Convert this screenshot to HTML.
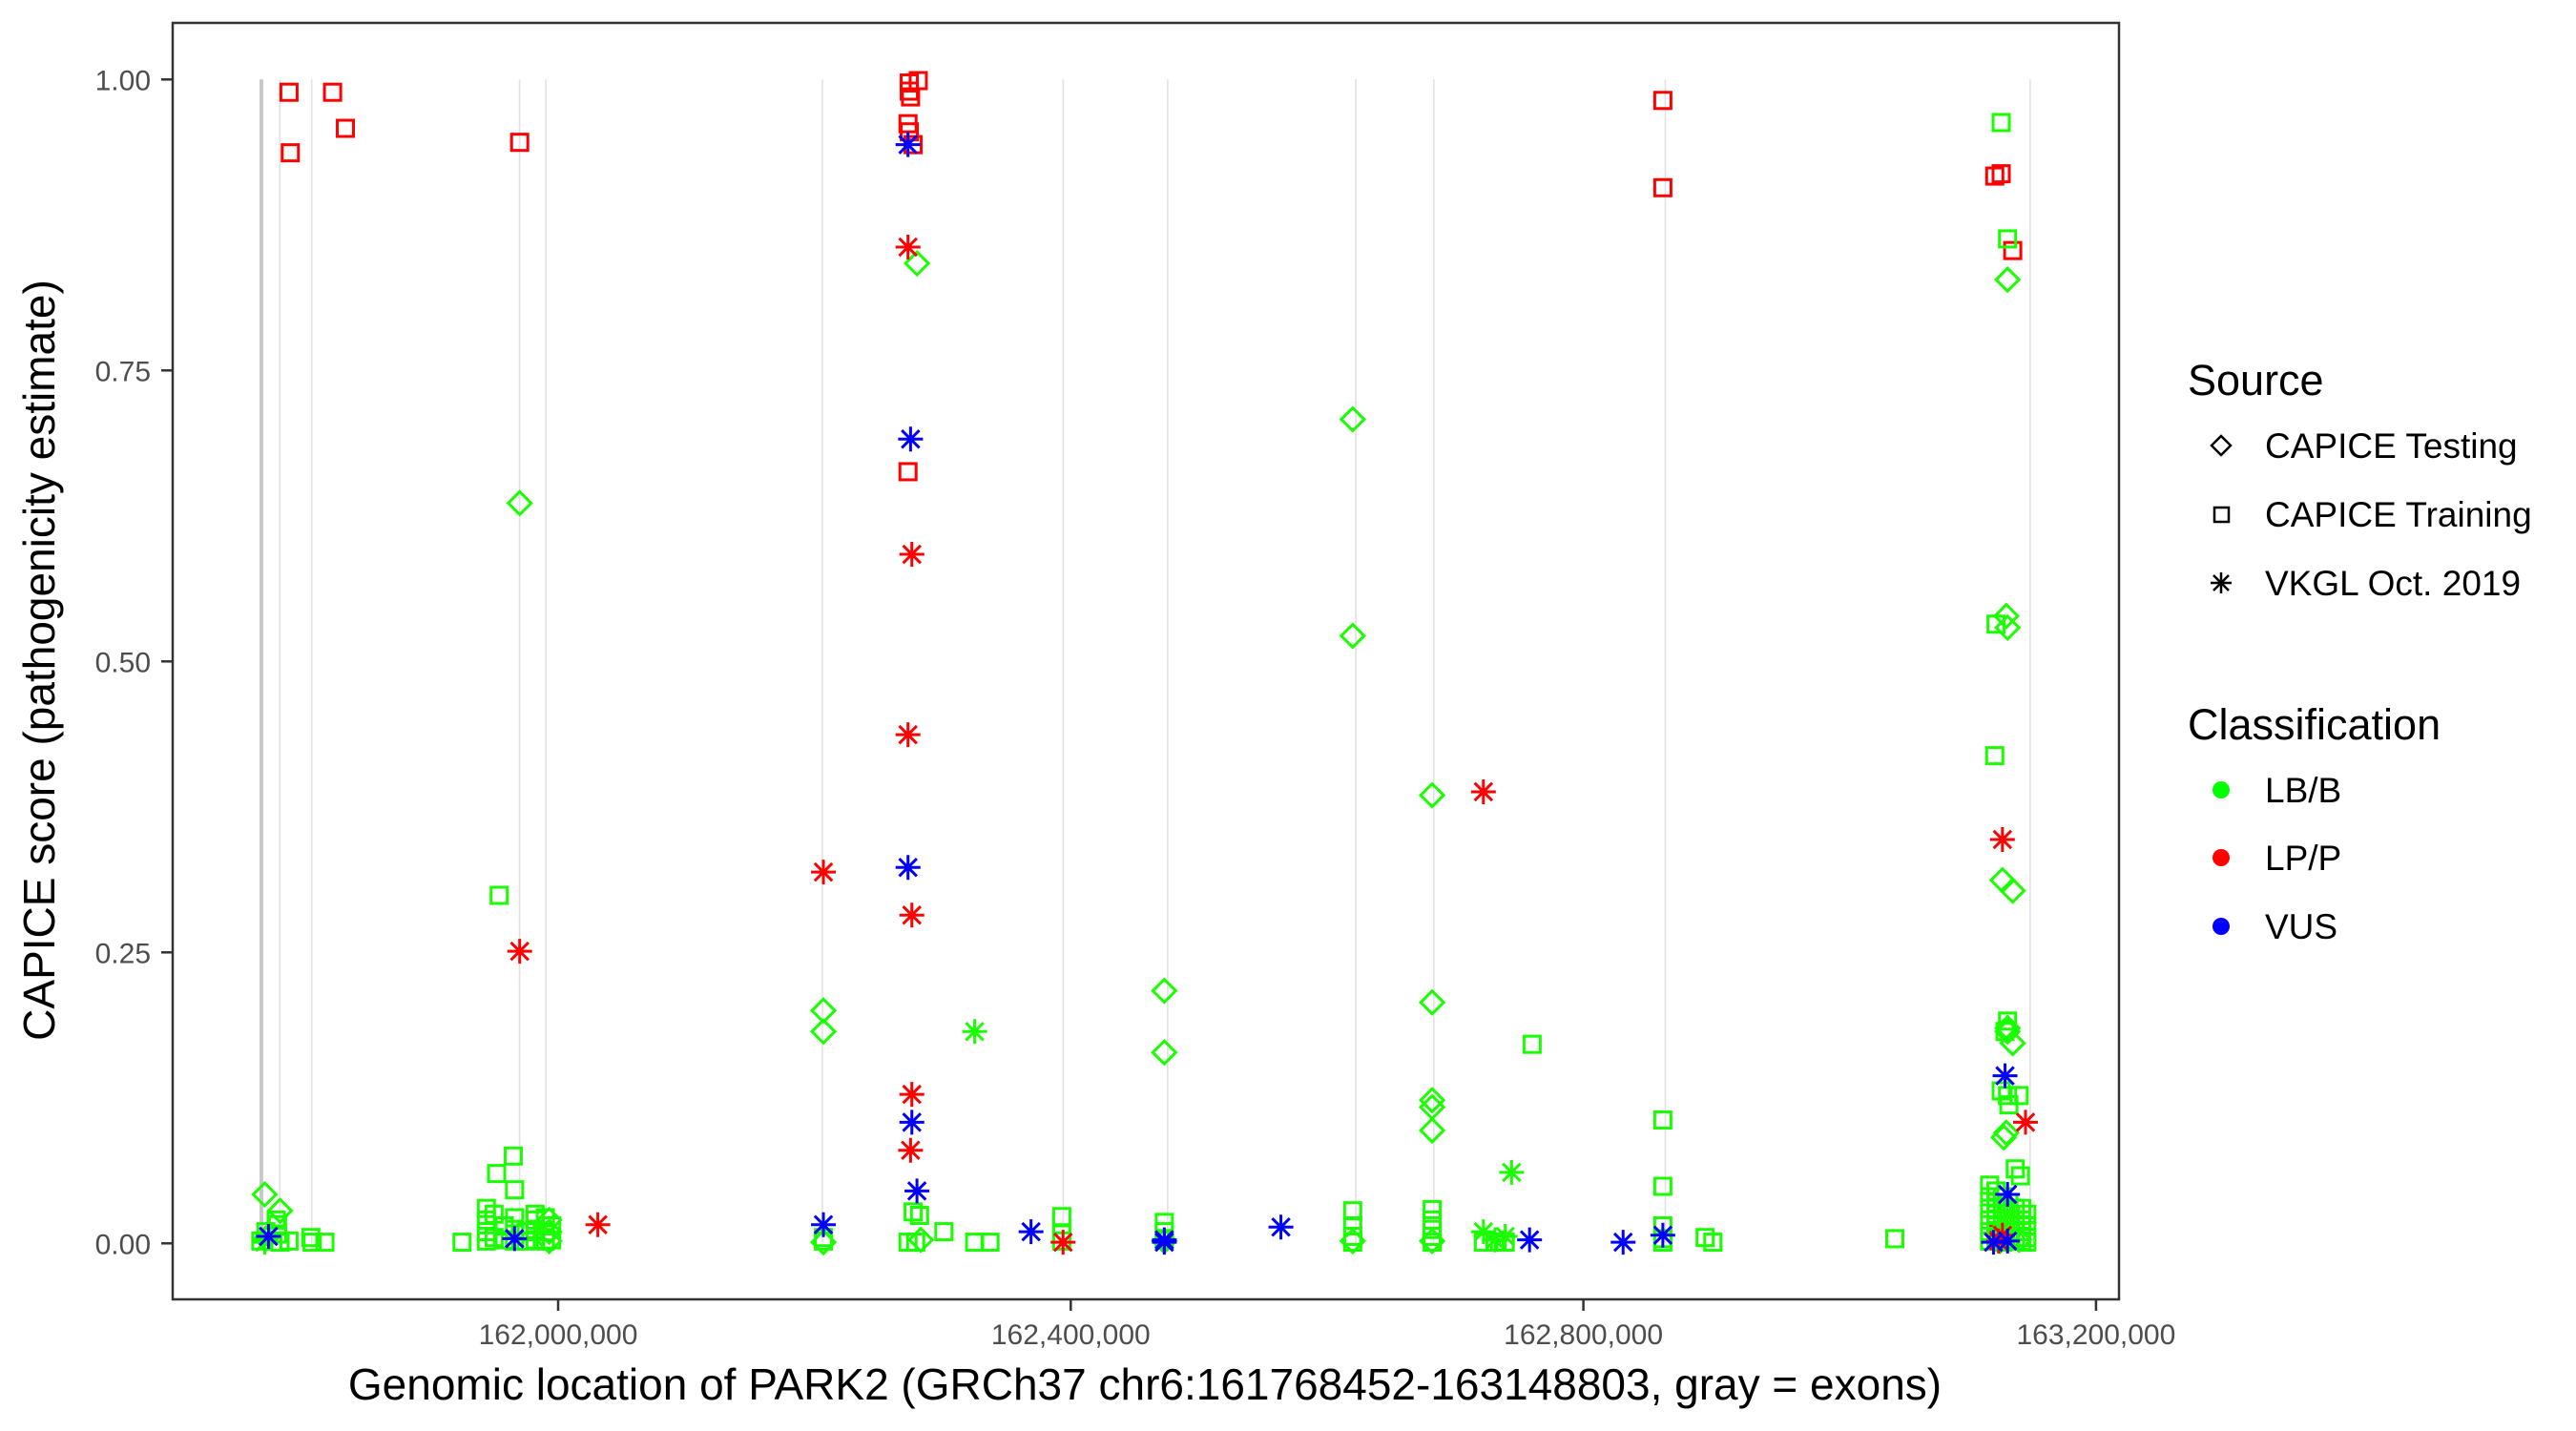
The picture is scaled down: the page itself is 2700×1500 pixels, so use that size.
<!DOCTYPE html>
<html><head><meta charset="utf-8"><title>PARK2 CAPICE scores</title>
<style>html,body{margin:0;padding:0;background:#fff}svg{display:block}</style></head>
<body>
<svg id="chart" xmlns="http://www.w3.org/2000/svg" width="2700" height="1500" viewBox="0 0 2700 1500" font-family="Liberation Sans, sans-serif">
<rect x="0" y="0" width="2700" height="1500" fill="#fff"/>
<g id="exons"></g>
<g id="points"></g>
<rect x="181" y="24" width="2040" height="1338" fill="none" stroke="#333" stroke-width="2.5"/>
<g id="yaxis"></g>
<g id="xaxis"></g>
<text transform="translate(57,692) rotate(-90)" text-anchor="middle" font-size="46" fill="#000">CAPICE score (pathogenicity estimate)</text>
<text x="1200" y="1467" text-anchor="middle" font-size="46" fill="#000">Genomic location of PARK2 (GRCh37 chr6:161768452-163148803, gray = exons)</text>
<g id="legend">
  <text x="2293" y="414" font-size="45" fill="#000">Source</text>
  <g>
    <path d="M2328 457 L2338 467 L2328 477 L2318 467 Z" fill="none" stroke="#000" stroke-width="2.5"/>
    <text x="2374" y="480" font-size="37">CAPICE Testing</text>
  </g>
  <g>
    <rect x="2321" y="532" width="15" height="15" fill="none" stroke="#000" stroke-width="2.5"/>
    <text x="2374" y="552" font-size="37">CAPICE Training</text>
  </g>
  <g>
    <path d="M2328 600 V622 M2317 611 H2339 M2320 603 L2336 619 M2336 603 L2320 619" stroke="#000" stroke-width="2.5"/>
    <text x="2374" y="624" font-size="37">VKGL Oct. 2019</text>
  </g>
  <text x="2293" y="775" font-size="45" fill="#000">Classification</text>
  <g>
    <circle cx="2328" cy="828" r="9" fill="#00ff00"/>
    <text x="2374" y="841" font-size="37">LB/B</text>
  </g>
  <g>
    <circle cx="2328" cy="899" r="9" fill="#ff0000"/>
    <text x="2374" y="912" font-size="37">LP/P</text>
  </g>
  <g>
    <circle cx="2328" cy="971" r="9" fill="#0000ff"/>
    <text x="2374" y="984" font-size="37">VUS</text>
  </g>
</g>
</svg>
<script>
const xTicks = [162000000, 162400000, 162800000, 163200000];
const xTickLabels = ["162,000,000", "162,400,000", "162,800,000", "163,200,000"];
const yTicks = [0, 0.25, 0.5, 0.75, 1.0];
const yTickLabels = ["0.00", "0.25", "0.50", "0.75", "1.00"];
const exonPos = [161768452, 161782800, 161807700, 161969900, 161990500, 162206200, 162394100, 162475600, 162622400, 162683300, 162863900, 163148600];

// kb positions and scores
const testLB_x = [161771,161783,161772,162280,161970,162207,162207,162207,162473,162473,162473,162620,162620,162620,162682,162682,162682,162682,162682,162682,163130,163131,163131,163127,163135,163131,163131,163135,163130,163128,161993,161993,161993,163140,163125,162283];
const testLB_y = [0.042,0.028,0.004,0.842,0.636,0.200,0.182,0.001,0.217,0.164,0.002,0.708,0.522,0.002,0.385,0.207,0.123,0.117,0.097,0.002,0.539,0.529,0.828,0.312,0.303,0.185,0.182,0.172,0.095,0.091,0.020,0.010,0.002,0.003,0.002,0.003];
const trainLB_x = [161768,161772,161780,161781,161781,161783,161790,161807,161808,161818,
 161925,161965,161952,161966,161954,161944,161944,161944,161944,161950,161950,161958,161958,161966,161966,161966,161975,161975,161982,161982,161982,161982,161990,161990,161990,161995,161995,
 162207,162207,162277,162282,162273,162279,162301,162325,162337,162393,162393,162393,
 162473,162473,162473,162620,162620,162620,162620,162682,162682,162682,162682,162682,162760,162722,162731,162739,
 162862,162862,162862,162862,162862,162895,162901,163043,
 163126,163131,163122,163121,163131,163129,163126,163131,163140,163132,163137,163141,
 163117,163117,163117,163117,163117,163117,163122,163122,163122,163122,163122,163127,163127,163127,163127,163127,163132,163132,163132,163132,163137,163137,163137,163137,163142,163142,163142,163142,163146,163146,163146,163146];
const trainLB_y = [0.002,0.010,0.020,0.016,0.008,0.001,0.002,0.005,0.001,0.001,
 0.001,0.075,0.060,0.046,0.299,0.030,0.020,0.010,0.002,0.025,0.005,0.015,0.003,0.022,0.012,0.002,0.010,0.002,0.025,0.020,0.012,0.003,0.022,0.010,0.002,0.015,0.003,
 0.002,0.005,0.027,0.024,0.001,0.001,0.010,0.001,0.001,0.023,0.008,0.002,
 0.018,0.010,0.003,0.028,0.015,0.006,0.001,0.029,0.020,0.012,0.006,0.001,0.171,0.001,0.001,0.001,
 0.106,0.049,0.015,0.004,0.001,0.005,0.001,0.004,
 0.963,0.863,0.532,0.419,0.191,0.182,0.131,0.127,0.127,0.119,0.064,0.058,
 0.050,0.040,0.030,0.020,0.010,0.002,0.045,0.035,0.025,0.015,0.005,0.040,0.030,0.020,0.010,0.001,0.035,0.025,0.015,0.005,0.030,0.020,0.010,0.002,0.030,0.020,0.010,0.002,0.025,0.015,0.005,0.001];
const trainLP_x = [161790,161791,161824,161834,161970,162274,162281,162274,162275,162273,162274,162277,162273,162862,162862,163121,163126,163135,163124,163127];
const trainLP_y = [0.989,0.937,0.989,0.958,0.946,0.997,0.999,0.990,0.985,0.962,0.955,0.944,0.663,0.982,0.907,0.917,0.919,0.853,0.008,0.004];
const vkglLB_x = [162325,162744,161771,162722,162731,162739];
const vkglLB_y = [0.182,0.061,0.001,0.010,0.003,0.006];
const vkglLP_x = [161970,162031,162207,162273,162276,162273,162276,162276,162275,162394,162722,163127,163145,163127,163124];
const vkglLP_y = [0.251,0.016,0.319,0.856,0.592,0.437,0.282,0.128,0.080,0.001,0.388,0.347,0.104,0.007,0.002];
const vkglVUS_x = [162273,162275,162273,162276,162280,162207,162369,162473,162564,162758,162831,162862,161774,161966,163129,163131,163120,163131,162473];
const vkglVUS_y = [0.944,0.691,0.323,0.104,0.045,0.016,0.010,0.003,0.014,0.003,0.001,0.007,0.006,0.004,0.144,0.042,0.001,0.002,0.001];

const NS = "http://www.w3.org/2000/svg";
function xs(bp){ return 585 + (bp - 162000000) / 400000 * 537.3; }
function ys(v){ return 1303.3 - v * 1220; }
function mk(tag, attrs, parent){ const e = document.createElementNS(NS, tag); for (const k in attrs) e.setAttribute(k, attrs[k]); parent.appendChild(e); return e; }

const gEx = document.getElementById('exons');
exonPos.forEach((p, i) => {
  const l = mk('line', {x1: xs(p), x2: xs(p), y1: ys(0), y2: ys(1), stroke: i === 0 ? '#c8c8c8' : '#e2e2e2', 'stroke-width': i === 0 ? 4 : 1.6}, gEx);
  
  
});

const gY = document.getElementById('yaxis');
yTicks.forEach((t, i) => {
  const y = ys(t);
  mk('line', {x1: 169, x2: 181, y1: y, y2: y, stroke: '#333', 'stroke-width': 2.5}, gY);
  const tx = mk('text', {x: 158, y: y + 11, 'text-anchor': 'end', 'font-size': 30, fill: '#4d4d4d'}, gY);
  tx.textContent = yTickLabels[i];
  
  
});
const gX = document.getElementById('xaxis');
xTicks.forEach((t, i) => {
  const x = xs(t);
  mk('line', {x1: x, x2: x, y1: 1362, y2: 1374, stroke: '#333', 'stroke-width': 2.5}, gX);
  const tx = mk('text', {x: x, y: 1409, 'text-anchor': 'middle', 'font-size': 30, fill: '#4d4d4d'}, gX);
  tx.textContent = xTickLabels[i];
  
  
});

const gP = document.getElementById('points');
function square(xa, ya, col, name){
  xa.forEach((xv, i) => {
    const cx = xs(xv * 1000), cy = ys(ya[i]);
    const r = mk('rect', {x: cx - 8.5, y: cy - 8.5, width: 17, height: 17, fill: 'none', stroke: col, 'stroke-width': 3}, gP);
    
    
  });
}
function diamond(xa, ya, col, name){
  xa.forEach((xv, i) => {
    const cx = xs(xv * 1000), cy = ys(ya[i]);
    const p = mk('path', {d: `M${cx} ${cy-12} L${cx+12} ${cy} L${cx} ${cy+12} L${cx-12} ${cy} Z`, fill: 'none', stroke: col, 'stroke-width': 3}, gP);
    
    
  });
}
function star(xa, ya, col, name){
  xa.forEach((xv, i) => {
    const cx = xs(xv * 1000), cy = ys(ya[i]), r = 13, d = 9.2;
    const p = mk('path', {d: `M${cx} ${cy-r} V${cy+r} M${cx-r} ${cy} H${cx+r} M${cx-d} ${cy-d} L${cx+d} ${cy+d} M${cx+d} ${cy-d} L${cx-d} ${cy+d}`, stroke: col, 'stroke-width': 3, fill: 'none'}, gP);
    
    
  });
}
square(trainLP_x, trainLP_y, '#ff0000', 'training-lpp-point');
square(trainLB_x, trainLB_y, '#1aff00', 'training-lbb-point');
diamond(testLB_x, testLB_y, '#1aff00', 'testing-lbb-point');
star(vkglLB_x, vkglLB_y, '#1aff00', 'vkgl-lbb-point');
star(vkglLP_x, vkglLP_y, '#ff0000', 'vkgl-lpp-point');
star(vkglVUS_x, vkglVUS_y, '#0000ff', 'vkgl-vus-point');
</script>
</body></html>
